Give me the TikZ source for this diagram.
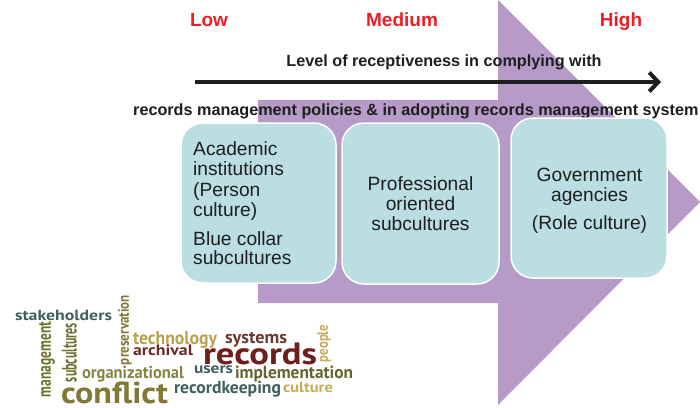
\documentclass[tikz,border=0pt]{standalone}
\usepackage{graphicx}
\usepackage{fontspec}
\setmainfont{Liberation Sans}
\newfontfamily\wcf{PT Sans}
\usetikzlibrary{arrows.meta}
\definecolor{purp}{RGB}{182,154,200}
\definecolor{boxc}{RGB}{186,222,226}
\definecolor{redc}{RGB}{237,30,38}
\definecolor{txtc}{RGB}{30,30,30}
\definecolor{wcSlate}{RGB}{62,96,95}
\definecolor{wcOlive}{RGB}{112,112,48}
\definecolor{wcOliveB}{RGB}{128,122,54}
\definecolor{wcOliveC}{RGB}{134,133,64}
\definecolor{wcTan}{RGB}{186,160,80}
\definecolor{wcGold}{RGB}{198,172,88}
\definecolor{wcMaroon}{RGB}{108,42,36}
\definecolor{wcBrown}{RGB}{106,58,46}
\definecolor{wcRed}{RGB}{111,31,27}
\definecolor{wcDkOlive}{RGB}{104,100,46}
\newcommand\hword[7]{\node[wc, anchor=north west, text=#6] (#7) at (#1,#2) {\resizebox*{#3pt}{#4pt}{\wcf\bfseries #5}};}
\newcommand\vword[7]{\node[wc, anchor=north west, rotate=90, text=#6] (#7) at (#1,#2) {\resizebox*{#3pt}{#4pt}{\wcf\bfseries #5}};}
\begin{document}
\begin{tikzpicture}[x=1pt,y=-1pt,
  box/.style={draw=white, line width=1.5pt, fill=boxc, rounded corners=22pt, inner sep=0pt},
  boxtxt/.style={font=\fontsize{19.2}{20}\selectfont, text=txtc, inner sep=0pt},
  lvl/.style={font=\bfseries\fontsize{19}{19}\selectfont, text=redc, inner sep=0pt, anchor=base},
  head/.style={font=\bfseries\fontsize{16.2}{16.2}\selectfont, text=txtc, inner sep=0pt},
  wc/.style={inner sep=0pt, outer sep=0pt}]
\useasboundingbox (0,0) rectangle (700,407);
\clip (0,0) rectangle (700,407);
\fill[white] (0,0) rectangle (700,407);
% big purple arrow
\fill[purp] (258,100) -- (498,100) -- (498,0) -- (700,202) -- (498,405) -- (498,303) -- (258,303) -- cycle;
% level labels
\node[lvl] (low) at (209,26) {Low};
\node[lvl] (med) at (402,26) {Medium};
\node[lvl] (high) at (621,26) {High};
% heading and arrow
\node[head, anchor=base] (h1) at (444,66) {Level of receptiveness in complying with};
\coordinate (aS) at (195,82);
\coordinate (aE) at (661,82);
\draw[line width=4pt, color=txtc, -{Straight Barb[length=9pt,width=19pt]}] (aS) -- (aE);
\node[head, anchor=base west] (h2) at (133,115) {records management policies \& in adopting records management system};
% boxes
\node[box, minimum width=155pt, minimum height=160pt] (b1) at (258.5,203) {};
\node[box, minimum width=157pt, minimum height=161pt] (b2) at (420.5,203.5) {};
\node[box, minimum width=156pt, minimum height=160pt] (b3) at (589,198) {};
% box 1 text
\node[boxtxt, anchor=base west] (t11) at (193,155) {Academic};
\node[boxtxt, anchor=base west] (t12) at (193,175.5) {institutions};
\node[boxtxt, anchor=base west] (t13) at (193,196) {(Person};
\node[boxtxt, anchor=base west] (t14) at (193,216) {culture)};
\node[boxtxt, anchor=base west] (t15) at (193,245) {Blue collar};
\node[boxtxt, anchor=base west] (t16) at (193,264.5) {subcultures};
% box 2 text
\node[boxtxt, anchor=base] (t21) at (420.5,190) {Professional};
\node[boxtxt, anchor=base] (t22) at (420.5,210) {oriented};
\node[boxtxt, anchor=base] (t23) at (420.5,230) {subcultures};
% box 3 text
\node[boxtxt, anchor=base] (t31) at (589.5,181.5) {Government};
\node[boxtxt, anchor=base] (t32) at (589.5,201) {agencies};
\node[boxtxt, anchor=base] (t33) at (589.5,229) {(Role culture)};
% word cloud
\hword{15}{310.5}{97}{10.5}{stakeholders}{wcSlate}{w1}
\vword{39}{397}{75}{16}{management}{wcOlive}{w2}
\vword{62}{382}{59}{15}{subcultures}{wcOlive}{w3}
\vword{118}{365}{70}{14}{preservation}{wcOliveB}{w4}
\hword{133}{331}{84}{17}{technology}{wcTan}{w5}
\hword{133}{345}{60}{11}{archival}{wcMaroon}{w6}
\hword{225}{332}{62}{15}{systems}{wcBrown}{w7}
\hword{203}{343}{114}{22}{records}{wcRed}{w8}
\vword{317}{362}{37}{14}{people}{wcGold}{w9}
\hword{82}{366}{102}{16}{organizational}{wcOliveC}{w10}
\hword{194}{366}{39}{8}{users}{wcSlate}{w11}
\hword{235}{366}{118}{16}{implementation}{wcDkOlive}{w12}
\hword{61}{382}{107}{22}{conflict}{wcOliveB}{w13}
\hword{174}{381}{107}{16}{recordkeeping}{wcSlate}{w14}
\hword{283}{382}{50}{10.5}{culture}{wcGold}{w15}
\end{tikzpicture}
\end{document}
